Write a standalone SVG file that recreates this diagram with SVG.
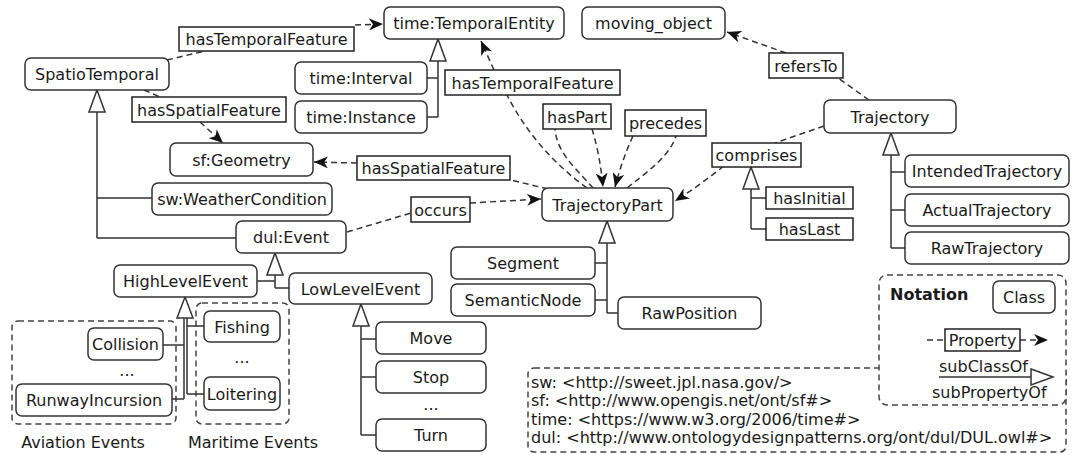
<svg xmlns="http://www.w3.org/2000/svg" width="1072" height="455" viewBox="0 0 1072 455">
<style>
.n{fill:#fff;stroke:#333;stroke-width:1.5}
.p{fill:#fff;stroke:#222;stroke-width:1.5}
.t{font-family:"DejaVu Sans",sans-serif;font-size:16px;fill:#1a1a1a;text-anchor:middle}
.tl{font-family:"DejaVu Sans",sans-serif;font-size:16px;fill:#1a1a1a}
.d{fill:none;stroke:#333;stroke-width:1.5;stroke-dasharray:6,4}
.s{fill:none;stroke:#333;stroke-width:1.5}
.tri{fill:#fff;stroke:#333;stroke-width:1.5}
.box{fill:#fff;stroke:#444;stroke-width:1.5;stroke-dasharray:6,4}
</style>
<defs>
<marker id="ar" viewBox="0 0 14 12" refX="14" refY="6" markerWidth="14" markerHeight="12" markerUnits="userSpaceOnUse" orient="auto">
<path d="M0,0 L14,6 L0,12 L4,6 Z" fill="#111"/>
</marker>
</defs>

<g id="groups">
<rect class="box" x="12" y="321" width="164" height="103" rx="6"/>
<rect class="box" x="196" y="303" width="93" height="121" rx="6"/>
<text class="t" x="83" y="448">Aviation Events</text>
<text class="t" x="253" y="448">Maritime Events</text>
</g>

<g id="connectors">
<path class="d" d="M167,60 L205,51"/>
<path class="d" d="M355,25 L383,24" marker-end="url(#ar)"/>
<path class="d" d="M144,90 L160,97"/>
<path class="d" d="M200,122 L223,143" marker-end="url(#ar)"/>
<path class="d" d="M587,188 Q535,150 507,95"/>
<path class="d" d="M494,70 L481,41" marker-end="url(#ar)"/>
<path class="d" d="M548,189 L511,180"/>
<path class="d" d="M357,163 L314,162" marker-end="url(#ar)"/>
<path class="d" d="M347,232 L411,213"/>
<path class="d" d="M470,203 L541,199" marker-end="url(#ar)"/>
<path class="d" d="M824,126 L775,143"/>
<path class="d" d="M724,166 Q700,185 675,201" marker-end="url(#ar)"/>
<path class="d" d="M869,100 L838,78"/>
<path class="d" d="M786,53 L727,32" marker-end="url(#ar)"/>
<path class="d" d="M593,188 C580,172 557,155 555,129"/>
<path class="d" d="M592,129 Q600,155 603,187" marker-end="url(#ar)"/>
<path class="d" d="M633,136 Q622,160 615,187" marker-end="url(#ar)"/>
<path class="d" d="M627,188 C650,170 670,155 676,136"/>
<!-- subclass -->
<path class="s" d="M97,112 V238 M97,198 H152 M97,238 H236"/>
<path class="tri" d="M97,90 L105,112 L89,112 Z"/>
<path class="s" d="M438,61 V117 M427,78 H438 M427,117 H438"/>
<path class="tri" d="M438,39 L446,61 L430,61 Z"/>
<path class="s" d="M607,243 V313 M595,263 H607 M595,300 H607 M607,313 H618"/>
<path class="tri" d="M607,221 L615,243 L599,243 Z"/>
<path class="s" d="M891,155 V248 M891,172 H905 M891,210 H905 M891,248 H905"/>
<path class="tri" d="M891,133 L899,155 L883,155 Z"/>
<path class="s" d="M751,189 V229 M751,198 H766 M751,229 H766"/>
<path class="tri" d="M751,167 L759,189 L743,189 Z"/>
<path class="s" d="M275,275 V288 M257,281 H275 M275,288 H289"/>
<path class="tri" d="M275,253 L283,275 L267,275 Z"/>
<path class="s" d="M184,318 V399 M163,345 H184 M172,399 H184 M187,318 V394 M187,326 H204 M187,394 H204"/>
<path class="tri" d="M185,297 L193,318 L177,318 Z"/>
<path class="s" d="M361,326 V435 M361,339 H376 M361,377 H376 M361,435 H376"/>
<path class="tri" d="M361,304 L369,326 L353,326 Z"/>
</g>

<g id="SpatioTemporal"><rect class="n" x="25" y="58" width="144" height="32" rx="6"/><text class="t" x="97" y="80">SpatioTemporal</text></g>
<g id="TemporalEntity"><rect class="n" x="384" y="7" width="180" height="32" rx="6"/><text class="t" x="474" y="29">time:TemporalEntity</text></g>
<g id="moving_object"><rect class="n" x="582" y="7" width="143" height="32" rx="6"/><text class="t" x="653.5" y="29">moving_object</text></g>
<g id="Interval"><rect class="n" x="295" y="62" width="132" height="32" rx="6"/><text class="t" x="361" y="84">time:Interval</text></g>
<g id="Instance"><rect class="n" x="295" y="101" width="132" height="32" rx="6"/><text class="t" x="361" y="123">time:Instance</text></g>
<g id="Geometry"><rect class="n" x="170" y="143" width="143" height="33" rx="6"/><text class="t" x="241.5" y="165.5">sf:Geometry</text></g>
<g id="WeatherCondition"><rect class="n" x="152" y="183" width="180" height="32" rx="6"/><text class="t" x="242" y="205">sw:WeatherCondition</text></g>
<g id="Event"><rect class="n" x="236" y="221" width="110" height="32" rx="6"/><text class="t" x="291" y="243">dul:Event</text></g>
<g id="TrajectoryPart"><rect class="n" x="542" y="188" width="131" height="33" rx="6"/><text class="t" x="607.5" y="210.5">TrajectoryPart</text></g>
<g id="Trajectory"><rect class="n" x="824" y="100" width="132" height="33" rx="6"/><text class="t" x="890" y="122.5">Trajectory</text></g>
<g id="IntendedTrajectory"><rect class="n" x="905" y="155" width="164" height="32" rx="6"/><text class="t" x="987" y="177">IntendedTrajectory</text></g>
<g id="ActualTrajectory"><rect class="n" x="905" y="194" width="164" height="32" rx="6"/><text class="t" x="987" y="216">ActualTrajectory</text></g>
<g id="RawTrajectory"><rect class="n" x="905" y="232" width="164" height="32" rx="6"/><text class="t" x="987" y="254">RawTrajectory</text></g>
<g id="Segment"><rect class="n" x="451" y="247" width="144" height="32" rx="6"/><text class="t" x="523" y="269">Segment</text></g>
<g id="SemanticNode"><rect class="n" x="451" y="284" width="144" height="32" rx="6"/><text class="t" x="523" y="306">SemanticNode</text></g>
<g id="RawPosition"><rect class="n" x="618" y="297" width="143" height="32" rx="6"/><text class="t" x="689.5" y="319">RawPosition</text></g>
<g id="HighLevelEvent"><rect class="n" x="114" y="265" width="143" height="32" rx="6"/><text class="t" x="185.5" y="287">HighLevelEvent</text></g>
<g id="LowLevelEvent"><rect class="n" x="289" y="273" width="143" height="31" rx="6"/><text class="t" x="360.5" y="294.5">LowLevelEvent</text></g>
<g id="Move"><rect class="n" x="376" y="322" width="110" height="32" rx="6"/><text class="t" x="431" y="344">Move</text></g>
<g id="Stop"><rect class="n" x="376" y="361" width="110" height="32" rx="6"/><text class="t" x="431" y="383">Stop</text></g>
<g id="dots3"><text class="t" x="431" y="410">...</text></g>
<g id="Turn"><rect class="n" x="376" y="419" width="110" height="32" rx="6"/><text class="t" x="431" y="441">Turn</text></g>
<g id="Collision"><rect class="n" x="88" y="328" width="75" height="32" rx="6"/><text class="t" x="125.5" y="350">Collision</text></g>
<g id="dots1"><text class="t" x="127" y="376">...</text></g>
<g id="RunwayIncursion"><rect class="n" x="16" y="384" width="156" height="32" rx="6"/><text class="t" x="94" y="406">RunwayIncursion</text></g>
<g id="Fishing"><rect class="n" x="204" y="311" width="76" height="31" rx="6"/><text class="t" x="242" y="332.5">Fishing</text></g>
<g id="dots2"><text class="t" x="242" y="363">...</text></g>
<g id="Loitering"><rect class="n" x="204" y="377" width="76" height="33" rx="6"/><text class="t" x="242" y="399.5">Loitering</text></g>

<g id="properties">
<g id="p_hasTemporalFeature1"><rect class="p" x="179" y="27" width="175" height="24"/><text class="t" x="266.5" y="45">hasTemporalFeature</text></g>
<g id="p_hasSpatialFeature1"><rect class="p" x="132" y="97" width="154" height="25"/><text class="t" x="209" y="115.5">hasSpatialFeature</text></g>
<g id="p_hasTemporalFeature2"><rect class="p" x="445" y="70" width="175" height="25"/><text class="t" x="532.5" y="88.5">hasTemporalFeature</text></g>
<g id="p_hasSpatialFeature2"><rect class="p" x="357" y="156" width="153" height="24"/><text class="t" x="433.5" y="174">hasSpatialFeature</text></g>
<g id="p_occurs"><rect class="p" x="411" y="197" width="59" height="25"/><text class="t" x="440.5" y="215.5">occurs</text></g>
<g id="p_hasPart"><rect class="p" x="543" y="104" width="68" height="25"/><text class="t" x="577" y="122.5">hasPart</text></g>
<g id="p_precedes"><rect class="p" x="625" y="110" width="81" height="26"/><text class="t" x="665.5" y="129">precedes</text></g>
<g id="p_comprises"><rect class="p" x="712" y="143" width="89" height="24"/><text class="t" x="756.5" y="161">comprises</text></g>
<g id="p_hasInitial"><rect class="p" x="766" y="187" width="87" height="22"/><text class="t" x="809.5" y="204">hasInitial</text></g>
<g id="p_hasLast"><rect class="p" x="766" y="218" width="87" height="22"/><text class="t" x="809.5" y="235">hasLast</text></g>
<g id="p_refersTo"><rect class="p" x="769" y="53" width="74" height="25"/><text class="t" x="806" y="71.5">refersTo</text></g>
</g>

<g id="namespaces">
<rect class="box" x="528" y="368" width="538" height="84" rx="6"/>
<text class="tl" x="531" y="388">sw: &lt;http://sweet.jpl.nasa.gov/&gt;</text>
<text class="tl" x="531" y="406">sf: &lt;http://www.opengis.net/ont/sf#&gt;</text>
<text class="tl" x="531" y="425">time: &lt;https://www.w3.org/2006/time#&gt;</text>
<text class="tl" x="531" y="443">dul: &lt;http://www.ontologydesignpatterns.org/ont/dul/DUL.owl#&gt;</text>
</g>

<g id="notation">
<rect class="box" x="879" y="275" width="187" height="130" rx="8"/>
<text class="tl" x="890" y="300" font-weight="bold">Notation</text>
<rect class="n" x="993" y="281" width="62" height="32" rx="6"/>
<text class="t" x="1024" y="303">Class</text>
<path class="d" d="M927,340 L945,340"/>
<path class="d" d="M1020,340 L1048,340" marker-end="url(#ar)"/>
<rect class="p" x="945" y="329" width="75" height="22"/>
<text class="t" x="982.5" y="346">Property</text>
<text class="tl" x="939" y="372">subClassOf</text>
<path class="s" d="M939,377 H1031"/>
<path class="tri" d="M1031,369 L1053,377 L1031,385 Z"/>
<text class="tl" x="932" y="398">subPropertyOf</text>
</g>
</svg>
